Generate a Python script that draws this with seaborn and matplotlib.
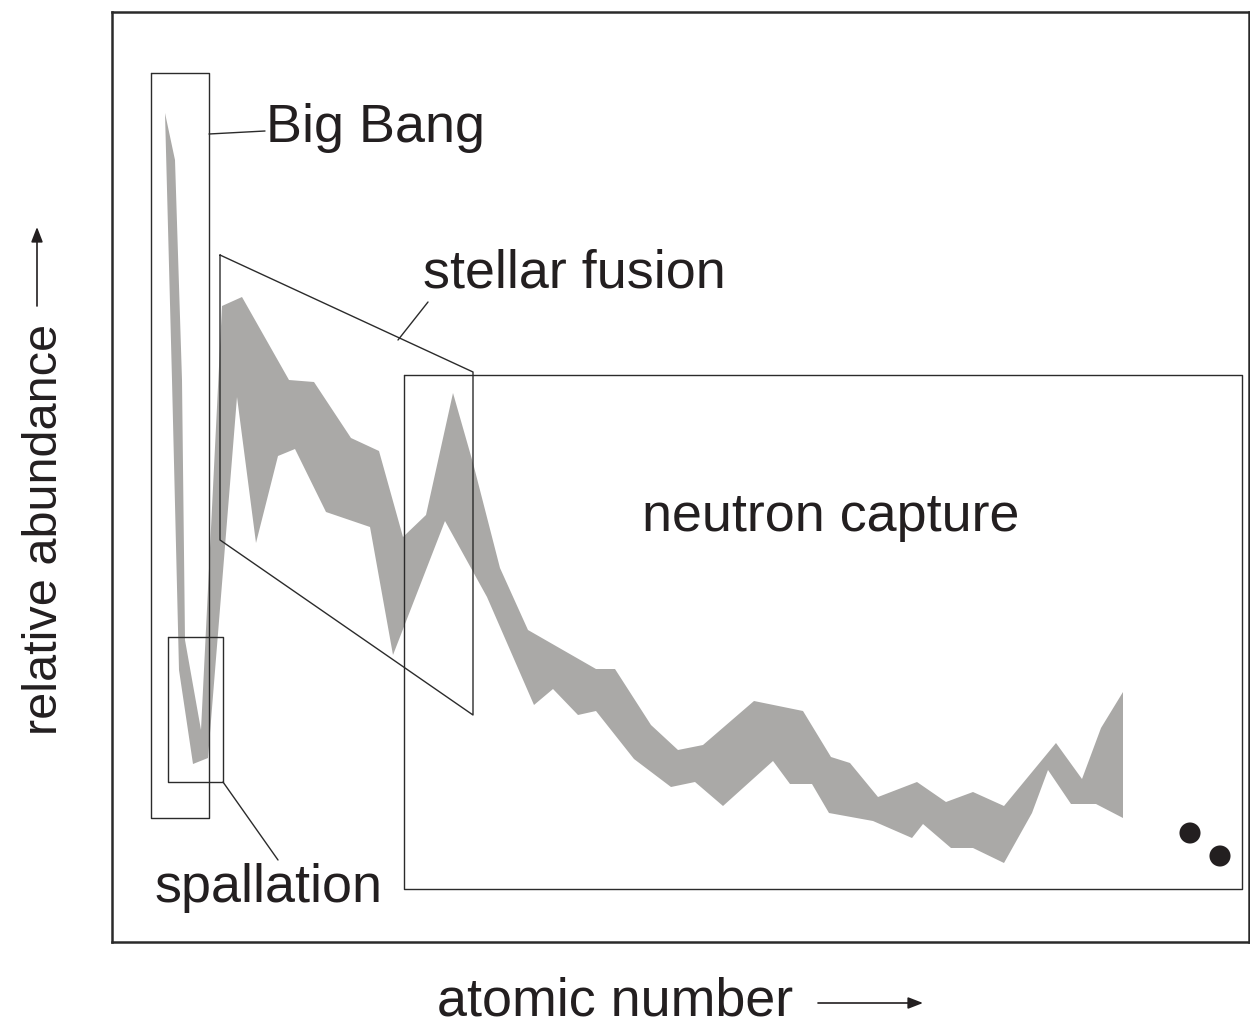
import matplotlib
matplotlib.use("Agg")
import matplotlib.pyplot as plt
import seaborn as sns
import numpy as np
import pandas as pd

# ---- data (schematic units: x = atomic-number axis, y = plotted depth, axis inverted) ----
upper_x = [165, 175, 182, 185, 201, 222, 242, 289, 314, 351, 379, 403, 426, 453, 473, 500, 528,
           596, 615, 651, 678, 703, 754, 803, 831, 850, 878, 917, 946, 973, 1004, 1056, 1082, 1101, 1123]
upper_y = [113, 160, 380, 640, 730, 306, 297, 380, 382, 438, 451, 537, 515, 393, 463, 568, 630,
           669, 669, 725, 750, 745, 701, 711, 757, 763, 797, 782, 802, 792, 806, 743, 779, 728, 692]
lower_x = [1123, 1096, 1071, 1048, 1032, 1004, 973, 951, 923, 912, 873, 829, 812, 790, 773, 723,
           695, 671, 634, 596, 578, 553, 534, 487, 445, 393, 370, 326, 295, 278, 256, 237, 208,
           193, 179, 172, 165]
lower_y = [818, 804, 804, 770, 813, 863, 848, 848, 824, 838, 821, 813, 784, 784, 761, 806,
           782, 787, 759, 711, 715, 689, 705, 597, 521, 655, 527, 512, 449, 456, 543, 397, 758,
           764, 670, 380, 113]

dot_x = [1190, 1220]
dot_y = [833, 856]

region_labels = ["Big Bang", "stellar fusion", "neutron capture", "spallation"]
x_label = "atomic number"
y_label = "relative abundance"

# ---- figure ----
sns.set_style("white")
plt.rcParams["font.family"] = ["Liberation Sans", "DejaVu Sans"]

W, H = 1250, 1024
fig = plt.figure(figsize=(W / 100, H / 100), dpi=100)
ax = fig.add_axes([112 / W, (H - 942) / H, (1249 - 112) / W, (942 - 12) / H])
ax.set_xlim(112, 1249)
ax.set_ylim(942, 12)
ax.set_xticks([])
ax.set_yticks([])
for s in ax.spines.values():
    s.set_visible(True)
    s.set_color("#2a2a2a")
    s.set_linewidth(1.8)

band_color = "#aaa9a7"
ax.fill(upper_x + lower_x, upper_y + lower_y, color=band_color, lw=0, zorder=1)

line_kw = dict(color="#2b2b2b", lw=1.0, zorder=3)
# Big Bang box
ax.plot([151, 209, 209, 151, 151], [73, 73, 818, 818, 73], **line_kw)
ax.plot([209, 265], [134, 131], **line_kw)
# spallation box
ax.plot([168, 223, 223, 168, 168], [637, 637, 782, 782, 637], **line_kw)
ax.plot([223, 278], [782, 860], **line_kw)
# stellar fusion parallelogram
ax.plot([220, 473, 473, 220, 220], [255, 372, 715, 540, 255], **line_kw)
ax.plot([398, 428], [340, 302], **line_kw)
# neutron capture box
ax.plot([404, 1242, 1242, 404, 404], [375, 375, 889, 889, 375], **line_kw)

dots = pd.DataFrame({"x": dot_x, "y": dot_y})
sns.scatterplot(data=dots, x="x", y="y", ax=ax, s=230, color="#231f20",
                edgecolor="none", marker="o", zorder=4)
ax.set_xlabel("")
ax.set_ylabel("")

tc = "#231f20"
fs = 38.8
ax.text(266, 142, region_labels[0], fontsize=fs, color=tc, ha="left", va="baseline")
ax.text(423, 288, region_labels[1], fontsize=fs, color=tc, ha="left", va="baseline")
ax.text(642, 531, region_labels[2], fontsize=fs, color=tc, ha="left", va="baseline")
ax.text(154, 902, region_labels[3], fontsize=fs, color=tc, ha="left", va="baseline")

def fx(px):
    return px / W

def fy(py):
    return (H - py) / H

fig.text(fx(437), fy(1015), x_label, fontsize=fs, color=tc, ha="left", va="baseline")
fig.text(fx(57), fy(735), y_label, fontsize=35, color=tc, ha="left", va="baseline",
         rotation=90, rotation_mode="anchor")

arrow_kw = dict(arrowstyle="-|>,head_length=0.9,head_width=0.35", color=tc, lw=1.2,
                shrinkA=0, shrinkB=0)
ax.annotate("", xy=(fx(923), fy(1003)), xytext=(fx(818), fy(1003)),
            xycoords="figure fraction", textcoords="figure fraction",
            arrowprops=arrow_kw, annotation_clip=False)
ax.annotate("", xy=(fx(37), fy(227)), xytext=(fx(37), fy(306)),
            xycoords="figure fraction", textcoords="figure fraction",
            arrowprops=arrow_kw, annotation_clip=False)

fig.savefig("out.png", dpi=100, facecolor="white")
